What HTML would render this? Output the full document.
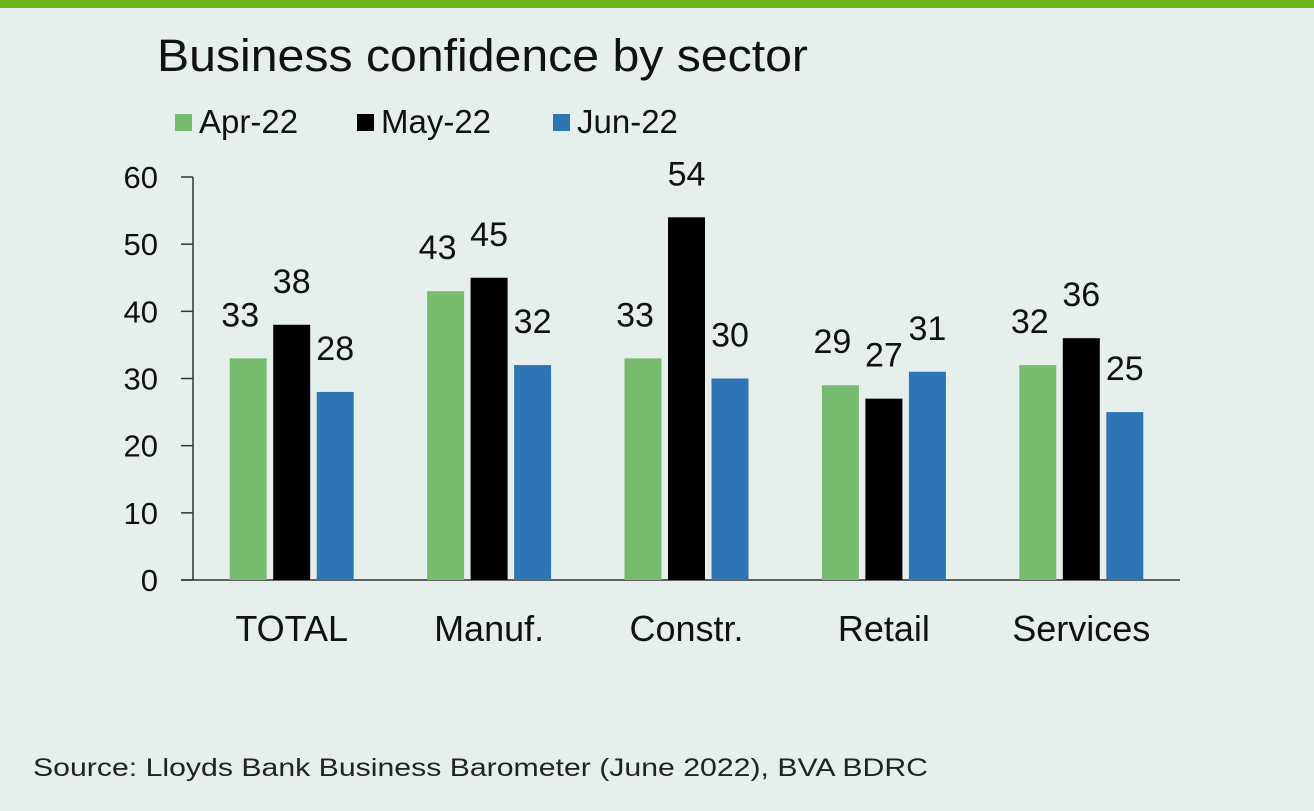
<!DOCTYPE html>
<html><head><meta charset="utf-8"><style>
html,body{margin:0;padding:0;background:#e6efec;}
svg{display:block;font-family:"Liberation Sans",Arial,sans-serif;}
</style></head><body>
<svg id="c" width="1314" height="811">
<rect x="0" y="0" width="1314" height="811" fill="#e6efec"/>
<rect x="0" y="0" width="1314" height="8" fill="#6cb520"/>
<text x="157" y="71" font-size="45" fill="#111" textLength="651" lengthAdjust="spacingAndGlyphs">Business confidence by sector</text>
<g id="legend"></g>
<g id="axes"></g>
<g id="bars"></g>
<text x="33" y="776" font-size="25" fill="#222" textLength="895" lengthAdjust="spacingAndGlyphs">Source: Lloyds Bank Business Barometer (June 2022), BVA BDRC</text>
</svg>
<script>
const categories=["TOTAL","Manuf.","Constr.","Retail","Services"];
const seriesNames=["Apr-22","May-22","Jun-22"];
const apr=[33,43,33,29,32];
const may=[38,45,54,27,36];
const jun=[28,32,30,31,25];
const yTicks=[0,10,20,30,40,50,60];
const colors=["#77bb6f","#000000","#2e75b6"];
const NS="http://www.w3.org/2000/svg";
const x0=193,x1=1180,yTop=177,yBot=580,yMax=60;
const y=v=>yBot-(v/yMax)*(yBot-yTop);
const band=(x1-x0)/categories.length;
const cx=i=>x0+band*(i+0.5);
function mk(tag,attrs,parent){const e=document.createElementNS(NS,tag);for(const k in attrs)e.setAttribute(k,attrs[k]);parent.appendChild(e);return e;}
const axes=document.getElementById('axes'),bars=document.getElementById('bars'),legend=document.getElementById('legend');
let l=mk('line',{x1:x0,y1:yTop,x2:x0,y2:yBot,stroke:'#333','stroke-width':1.5},axes);


l=mk('line',{x1:181,y1:yBot,x2:x1,y2:yBot,stroke:'#333','stroke-width':1.5},axes);


yTicks.forEach(t=>{
  const tk=mk('line',{x1:181,y1:y(t),x2:x0,y2:y(t),stroke:'#333','stroke-width':1.5},axes);
  
  
  const tx=mk('text',{x:158,y:y(t)+11,'font-size':31,'text-anchor':'end',fill:'#111'},axes);
  tx.textContent=t;
  
  
});
categories.forEach((c,i)=>{
  const tx=mk('text',{x:cx(i),y:641,'font-size':36,'text-anchor':'middle',fill:'#111'},axes);
  tx.textContent=c;
  
  
});
const series=[apr,may,jun];
const bw=37,off=43.5;
series.forEach((s,k)=>{
  s.forEach((v,i)=>{
    const xc=cx(i)+(k-1)*off;
    const r=mk('rect',{x:xc-bw/2,y:y(v),width:bw,height:yBot-y(v),fill:colors[k]},bars);
    
    
    const tx=mk('text',{x:xc-(k===0?8:0),y:y(v)-32,'font-size':34,'text-anchor':'middle',fill:'#111'},bars);
    tx.textContent=v;
    
    
  });
});
const lx=[175,357,553];
seriesNames.forEach((n,k)=>{
  const r=mk('rect',{x:lx[k],y:114,width:17,height:17,fill:colors[k]},legend);
  
  
  const tx=mk('text',{x:lx[k]+24,y:133,'font-size':33,fill:'#111'},legend);
  tx.textContent=n;
  
  
});
</script>
</body></html>
